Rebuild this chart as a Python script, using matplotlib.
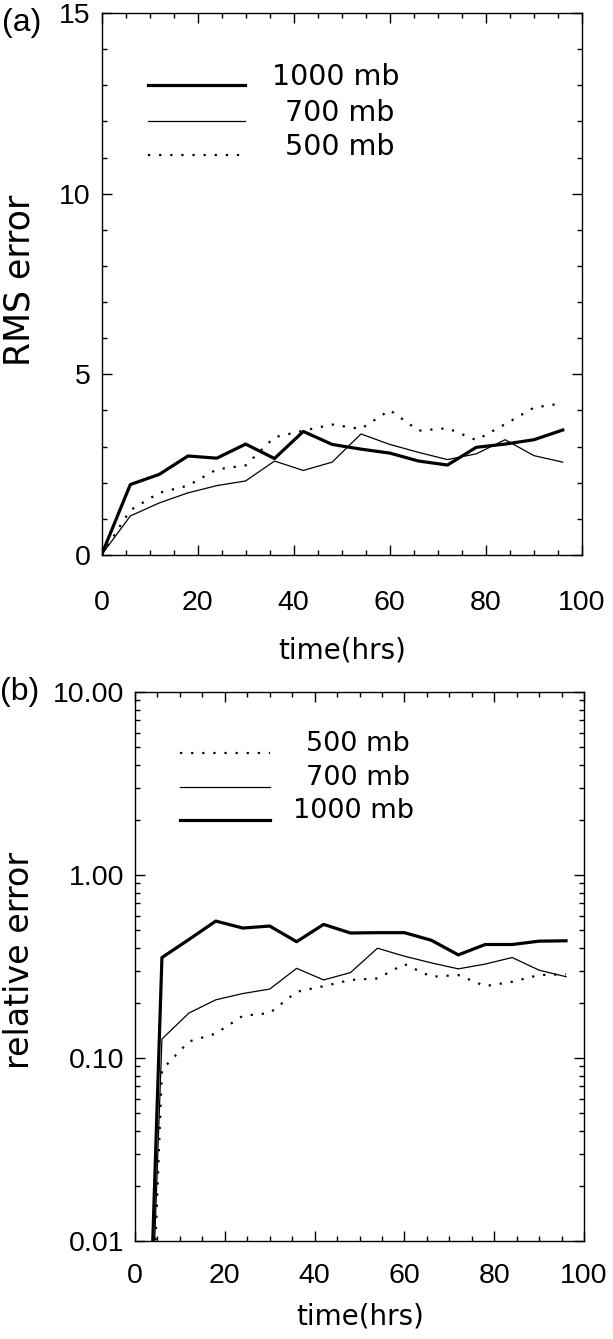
import matplotlib
matplotlib.use("Agg")
import matplotlib.pyplot as plt
from matplotlib.ticker import MultipleLocator, FixedLocator, LogLocator, NullFormatter
from matplotlib.lines import Line2D

# forecast hours
hours = [0, 6, 12, 18, 24, 30, 36, 42, 48, 54, 60, 66, 72, 78, 84, 90, 96]

# (a) RMS error
rms_1000 = [0, 1.95, 2.23, 2.74, 2.68, 3.07, 2.67, 3.42, 3.06, 2.93, 2.82, 2.60, 2.49, 2.98, 3.07, 3.19, 3.46]
rms_700 = [0, 1.08, 1.44, 1.72, 1.92, 2.05, 2.60, 2.34, 2.57, 3.35, 3.06, 2.84, 2.64, 2.80, 3.19, 2.75, 2.57]
rms_500 = [0, 1.24, 1.72, 1.92, 2.37, 2.48, 3.26, 3.44, 3.61, 3.49, 4.01, 3.44, 3.51, 3.18, 3.62, 4.08, 4.20]

# (b) relative error (first point is ~0, drawn off the bottom of the log axis)
rel_1000 = [1e-5, 0.354, 0.444, 0.56, 0.513, 0.526, 0.432, 0.537, 0.482, 0.484, 0.484, 0.44, 0.366, 0.417, 0.417, 0.435, 0.437]
rel_700 = [1e-5, 0.127, 0.176, 0.208, 0.225, 0.238, 0.309, 0.267, 0.293, 0.398, 0.360, 0.331, 0.307, 0.326, 0.354, 0.302, 0.278]
rel_500 = [1e-5, 0.0864, 0.123, 0.136, 0.170, 0.176, 0.230, 0.247, 0.267, 0.272, 0.326, 0.278, 0.284, 0.247, 0.261, 0.284, 0.286]

W, H = 613, 1339
thinFont = dict(family="DejaVu Sans", color="black")
tickFont = "Liberation Sans"
thick = dict(color="black", lw=2.3)
thin = dict(color="black", lw=0.9)
dotted = dict(color="black", lw=1.6, linestyle=(0, (1, 4)))

fig = plt.figure(figsize=(W / 100, H / 100), dpi=100)


def rect(left, top, right, bottom):
    return [left / W, 1 - bottom / H, (right - left) / W, (bottom - top) / H]


def fpos(x, y):
    return x / W, 1 - y / H


def styleAxes(ax, xpad):
    ax.tick_params(which="both", direction="in", top=True, right=True, width=1.0)
    ax.tick_params(which="major", length=7)
    ax.tick_params(which="minor", length=3.5)
    ax.tick_params(axis="x", pad=xpad)
    ax.tick_params(axis="y", pad=8)
    for s in ax.spines.values():
        s.set_linewidth(1.0)
    for lab in ax.get_xticklabels() + ax.get_yticklabels():
        lab.set_fontfamily(tickFont)
        lab.set_fontsize(20.5)


# ---------- panel (a)
ax1 = fig.add_axes(rect(101.5, 13, 582, 555))
ax1.plot(hours, rms_1000, **thick)
ax1.plot(hours, rms_700, **thin)
ax1.plot(hours, rms_500, **dotted)
ax1.set_xlim(0, 100)
ax1.set_ylim(0, 15)
ax1.xaxis.set_major_locator(MultipleLocator(20))
ax1.xaxis.set_minor_locator(MultipleLocator(5))
ax1.yaxis.set_major_locator(MultipleLocator(5))
ax1.yaxis.set_minor_locator(MultipleLocator(1))
styleAxes(ax1, 25)
ylabs = ax1.get_yticklabels()
ylabs[0].set_verticalalignment("bottom")
ylabs[-1].set_verticalalignment("top")

# legend (a)
legA = [("1000 mb", thick, 85, 272), ("700 mb", thin, 121, 285), ("500 mb", dotted, 155, 285)]
for text, style, y, tx in legA:
    x0, y0 = fpos(148, y)
    x1, _ = fpos(245, y)
    fig.add_artist(Line2D([x0, x1], [y0, y0], transform=fig.transFigure, **style))
    fig.text(*fpos(tx, y - 8), text, fontsize=20.5, va="center", ha="left", **thinFont)

fig.text(*fpos(20, 280), "RMS error", rotation=90, fontsize=25, va="center", ha="center", **thinFont)
fig.text(*fpos(342, 651), "time(hrs)", fontsize=20, va="center", ha="center", **thinFont)
fig.text(*fpos(2, 23), "(a)", fontsize=23, va="center", ha="left", family="Liberation Sans")

# ---------- panel (b)
ax2 = fig.add_axes(rect(135, 692, 584, 1241))
ax2.plot(hours, rel_1000, **thick)
ax2.plot(hours, rel_700, **thin)
ax2.plot(hours, rel_500, **dotted)
ax2.set_yscale("log")
ax2.set_xlim(0, 100)
ax2.set_ylim(0.01, 10)
ax2.xaxis.set_major_locator(MultipleLocator(20))
ax2.xaxis.set_minor_locator(MultipleLocator(5))
ax2.yaxis.set_major_locator(FixedLocator([0.01, 0.1, 1, 10]))
ax2.yaxis.set_minor_locator(LogLocator(base=10, subs=range(2, 10)))
ax2.yaxis.set_minor_formatter(NullFormatter())
ax2.set_yticklabels(["0.01", "0.10", "1.00", "10.00"])
styleAxes(ax2, 16)

legB = [("500 mb", dotted, 753, 306), ("700 mb", thin, 787, 306), ("1000 mb", thick, 820, 293)]
for text, style, y, tx in legB:
    x0, y0 = fpos(180, y)
    x1, _ = fpos(270, y)
    fig.add_artist(Line2D([x0, x1], [y0, y0], transform=fig.transFigure, **style))
    fig.text(*fpos(tx, y - 9), text, fontsize=19.5, va="center", ha="left", **thinFont)

fig.text(*fpos(20, 960), "relative error", rotation=90, fontsize=24, va="center", ha="center", **thinFont)
fig.text(*fpos(360, 1317), "time(hrs)", fontsize=20, va="center", ha="center", **thinFont)
fig.text(*fpos(0, 692), "(b)", fontsize=23, va="center", ha="left", family="Liberation Sans")

fig.savefig("out.png", dpi=100)
